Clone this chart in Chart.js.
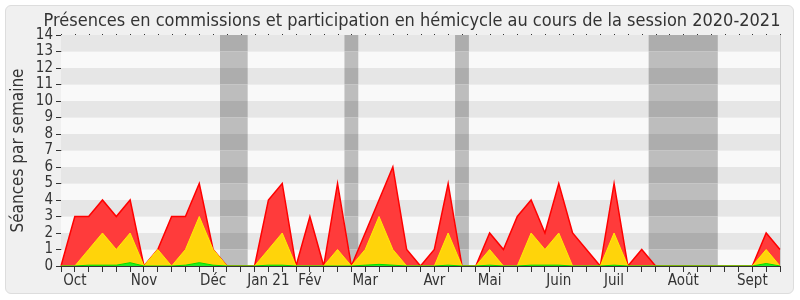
<!DOCTYPE html>
<html>
<head>
<meta charset="utf-8">
<script src="https://cdn.jsdelivr.net/npm/chart.js@4.4.1/dist/chart.umd.min.js"></script>
<style>
  body { margin: 0; background: #ffffff; }
  #panel {
    position: absolute; left: 5px; top: 5px; width: 787px; height: 287px;
    background: #f0f0f0; border: 1px solid #dddddd; border-radius: 6px;
  }
  #wrap { position: absolute; left: 0; top: 0; width: 800px; height: 300px; }
</style>
</head>
<body>
<div id="panel"></div>
<div id="wrap"><canvas id="chart" width="800" height="300"></canvas></div>
<script>
const FONT = "'DejaVu Sans Condensed', 'DejaVu Sans', sans-serif";

const chartTitle = "Présences en commissions et participation en hémicycle au cours de la session 2020-2021";

// one point per week, Oct 2020 -> Sept 2021
const monthLabels = ["Oct", "Nov", "Déc", "Jan 21", "Fév", "Mar", "Avr", "Mai", "Juin", "Juil", "Août", "Sept"];
const monthWeeks  = [1, 6, 11, 15, 18, 22, 27, 31, 36, 40, 45, 50];

const totalSeances = [0, 3, 3, 4, 3, 4, 0, 1, 3, 3, 5, 1, 0, 0, 0, 4, 5, 0, 3, 0,
                      5, 0, 2, 4, 6, 1, 0, 1, 5, 0, 0, 2, 1, 3, 4, 2, 5, 2, 1, 0,
                      5, 0, 1, 0, 0, 0, 0, 0, 0, 0, 0, 2, 1];
const commissions  = [0, 0, 1, 2, 1, 2, 0, 1, 0, 1, 3, 1, 0, 0, 0, 1, 2, 0, 0, 0,
                      1, 0, 1, 3, 1, 0, 0, 0, 2, 0, 0, 1, 0, 0, 2, 1, 2, 0, 0, 0,
                      2, 0, 0, 0, 0, 0, 0, 0, 0, 0, 0, 1, 0];
const interventions = [0, 0, 0.05, 0.05, 0.05, 0.2, 0, 0, 0, 0.05, 0.2, 0.05, 0, 0, 0, 0.05, 0.05, 0, 0, 0,
                      0, 0, 0.05, 0.1, 0.05, 0, 0, 0, 0.05, 0, 0, 0.05, 0, 0, 0.05, 0.05, 0.05, 0, 0, 0,
                      0.05, 0, 0, 0, 0, 0, 0, 0, 0, 0, 0, 0.15, 0];

// parliamentary breaks, in week positions
const vacances = [[11.5, 13.5], [20.5, 21.5], [28.5, 29.5], [42.5, 47.5]];

const yMax = 14;

const weeks = totalSeances.map((v, i) => {
    const k = monthWeeks.indexOf(i);
    return k >= 0 ? monthLabels[k] : "";
});

const backgroundPlugin = {
    id: "stripes",
    beforeDatasetsDraw(chart) {
        const { ctx, chartArea: a, scales: { x, y } } = chart;
        ctx.save();
        for (let v = 0; v < yMax; v++) {
            const y0 = y.getPixelForValue(v + 1), y1 = y.getPixelForValue(v);
            ctx.fillStyle = v % 2 === 0 ? "#f9f9f9" : "#e6e6e6";
            ctx.fillRect(a.left, y0, a.right - a.left, y1 - y0);
            vacances.forEach(([s, e]) => {
                const x0 = x.getPixelForValue(s), x1 = x.getPixelForValue(e);
                ctx.fillStyle = v % 2 === 0 ? "#bdbdbd" : "#adadad";
                ctx.fillRect(x0, y0, x1 - x0, y1 - y0);
            });
        }
        ctx.strokeStyle = "#cccccc";
        ctx.lineWidth = 1;
        ctx.beginPath();
        ctx.moveTo(a.right + 0.5, a.top);
        ctx.lineTo(a.right + 0.5, a.bottom);
        ctx.stroke();
        ctx.restore();
    },
    afterDraw(chart) {
        const { ctx, chartArea: a, scales: { x } } = chart;
        ctx.save();
        // little dots along the top edge
        ctx.fillStyle = "#333333";
        for (let i = 0; i < weeks.length; i++) {
            ctx.fillRect(Math.round(x.getPixelForValue(i)), a.top - 1, 1, 1);
        }
        ctx.fillStyle = "#333333";
        ctx.font = "18px " + FONT;
        ctx.textAlign = "center";
        ctx.textBaseline = "alphabetic";
        ctx.fillText(chartTitle, 412, 26);
        ctx.restore();
    }
};

const ctx = document.getElementById("chart");

new Chart(ctx, {
    type: "line",
    data: {
        labels: weeks,
        datasets: [
            {
                label: "Interventions",
                data: interventions,
                borderColor: "#00dd00",
                backgroundColor: "#22ee22",
                borderWidth: 1,
                fill: "origin",
                pointRadius: 0,
                tension: 0
            },
            {
                label: "Commissions",
                data: commissions,
                borderColor: "#ffee00",
                backgroundColor: "#ffd40a",
                borderWidth: 1,
                fill: "origin",
                pointRadius: 0,
                tension: 0
            },
            {
                label: "Hémicycle",
                data: totalSeances,
                borderColor: "#ff0000",
                backgroundColor: "#ff3b3b",
                borderWidth: 1.5,
                fill: "origin",
                pointRadius: 0,
                tension: 0
            }
        ]
    },
    options: {
        responsive: false,
        animation: false,
        events: [],
        layout: { padding: { left: 0, right: 20, top: 35, bottom: 0 } },
        plugins: {
            legend: { display: false },
            title: { display: false },
            tooltip: { enabled: false }
        },
        scales: {
            x: {
                type: "category",
                offset: false,
                afterFit(scale) { scale.height = 34; },
                border: { display: true, color: "#333333", width: 1 },
                grid: { drawOnChartArea: false, drawTicks: true, tickLength: 6, color: "#333333" },
                ticks: {
                    autoSkip: false,
                    maxRotation: 0,
                    minRotation: 0,
                    padding: 0,
                    color: "#333333",
                    font: { family: FONT, size: 15 }
                }
            },
            y: {
                min: 0,
                max: yMax,
                afterFit(scale) { scale.width = 61; },
                border: { display: true, color: "#333333", width: 1 },
                grid: { drawOnChartArea: false, drawTicks: true, tickLength: 5, color: "#333333" },
                ticks: {
                    stepSize: 1,
                    autoSkip: false,
                    padding: 3,
                    color: "#333333",
                    font: { family: FONT, size: 15 }
                },
                title: {
                    display: true,
                    text: "Séances par semaine",
                    color: "#333333",
                    padding: { top: 8, bottom: 0 },
                    font: { family: FONT, size: 17 }
                }
            }
        }
    },
    plugins: [backgroundPlugin]
});
</script>
</body>
</html>
